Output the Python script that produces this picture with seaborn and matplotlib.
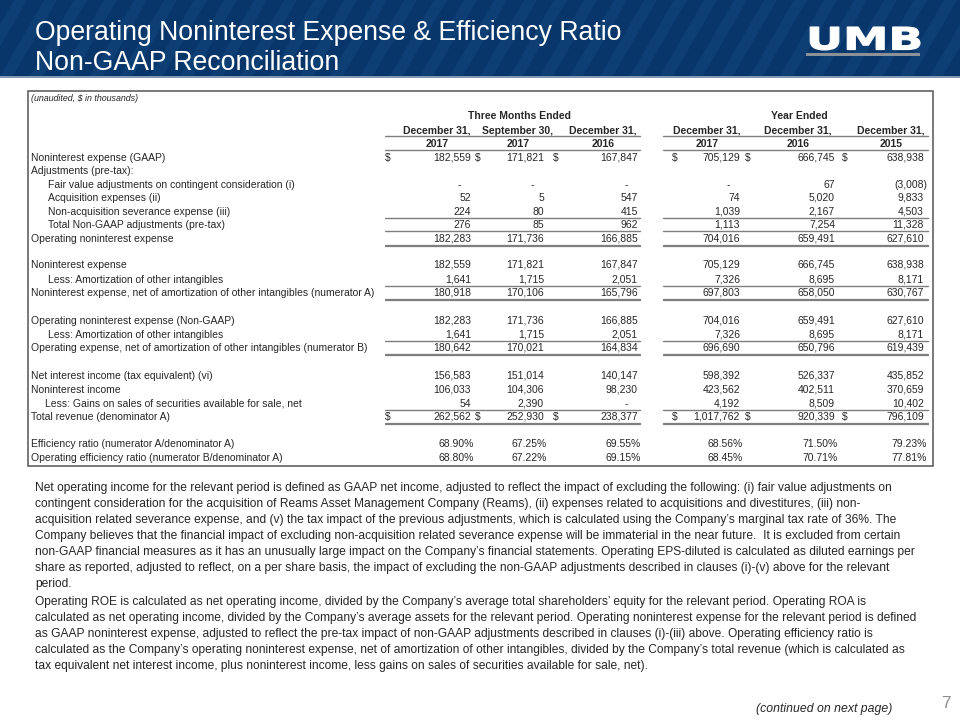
import numpy as np
import matplotlib.pyplot as plt
import seaborn as sns
from matplotlib.patches import Rectangle, Polygon, PathPatch
from matplotlib.textpath import TextPath
from matplotlib.font_manager import FontProperties
from matplotlib.path import Path

sns.set_theme(style="white")
plt.rcParams["font.family"] = ["Liberation Sans", "DejaVu Sans"]

# ---- data ----
title_lines = ["Operating Noninterest Expense & Efficiency Ratio", "Non-GAAP Reconciliation"]
group_labels = ["Three Months Ended", "Year Ended"]
col_dates = ["December 31,", "September 30,", "December 31,", "December 31,", "December 31,", "December 31,"]
col_years = ["2017", "2017", "2016", "2017", "2016", "2015"]

row_labels = [
    "Noninterest expense (GAAP)",
    "Adjustments (pre-tax):",
    "Fair value adjustments on contingent consideration (i)",
    "Acquisition expenses (ii)",
    "Non-acquisition severance expense (iii)",
    "Total Non-GAAP adjustments (pre-tax)",
    "Operating noninterest expense",
    "Noninterest expense",
    "Less: Amortization of other intangibles",
    "Noninterest expense, net of amortization of other intangibles (numerator A)",
    "Operating noninterest expense (Non-GAAP)",
    "Less: Amortization of other intangibles",
    "Operating expense, net of amortization of other intangibles (numerator B)",
    "Net interest income (tax equivalent) (vi)",
    "Noninterest income",
    "Less: Gains on sales of securities available for sale, net",
    "Total revenue (denominator A)",
    "Efficiency ratio (numerator A/denominator A)",
    "Operating efficiency ratio (numerator B/denominator A)",
]
row_indent = [0, 0, 1, 1, 1, 1, 0, 0, 1, 0, 0, 1, 0, 0, 0, 1, 0, 0, 0]
dollar_rows = [0, 16]
pct_rows = [17, 18]

q4_2017 = [182559, None, 0, 52, 224, 276, 182283, 182559, 1641, 180918, 182283, 1641, 180642,
           156583, 106033, 54, 262562, 68.90, 68.80]
q3_2017 = [171821, None, 0, 5, 80, 85, 171736, 171821, 1715, 170106, 171736, 1715, 170021,
           151014, 104306, 2390, 252930, 67.25, 67.22]
q4_2016 = [167847, None, 0, 547, 415, 962, 166885, 167847, 2051, 165796, 166885, 2051, 164834,
           140147, 98230, 0, 238377, 69.55, 69.15]
fy_2017 = [705129, None, 0, 74, 1039, 1113, 704016, 705129, 7326, 697803, 704016, 7326, 696690,
           598392, 423562, 4192, 1017762, 68.56, 68.45]
fy_2016 = [666745, None, 67, 5020, 2167, 7254, 659491, 666745, 8695, 658050, 659491, 8695, 650796,
           526337, 402511, 8509, 920339, 71.50, 70.71]
fy_2015 = [638938, None, -3008, 9833, 4503, 11328, 627610, 638938, 8171, 630767, 627610, 8171, 619439,
           435852, 370659, 10402, 796109, 79.23, 77.81]
columns = [q4_2017, q3_2017, q4_2016, fy_2017, fy_2016, fy_2015]

para1 = [
    "Net operating income for the relevant period is defined as GAAP net income, adjusted to reflect the impact of excluding the following: (i) fair value adjustments on",
    "contingent consideration for the acquisition of Reams Asset Management Company (Reams), (ii) expenses related to acquisitions and divestitures, (iii) non-",
    "acquisition related severance expense, and (v) the tax impact of the previous adjustments, which is calculated using the Company\u2019s marginal tax rate of 36%. The",
    "Company believes that the financial impact of excluding non-acquisition related severance expense will be immaterial in the near future.  It is excluded from certain",
    "non-GAAP financial measures as it has an unusually large impact on the Company\u2019s financial statements. Operating EPS-diluted is calculated as diluted earnings per",
    "share as reported, adjusted to reflect, on a per share basis, the impact of excluding the non-GAAP adjustments described in clauses (i)-(v) above for the relevant",
    "period.",
]
para2 = [
    "Operating ROE is calculated as net operating income, divided by the Company\u2019s average total shareholders\u2019 equity for the relevant period. Operating ROA is",
    "calculated as net operating income, divided by the Company\u2019s average assets for the relevant period. Operating noninterest expense for the relevant period is defined",
    "as GAAP noninterest expense, adjusted to reflect the pre-tax impact of non-GAAP adjustments described in clauses (i)-(iii) above. Operating efficiency ratio is",
    "calculated as the Company\u2019s operating noninterest expense, net of amortization of other intangibles, divided by the Company\u2019s total revenue (which is calculated as",
    "tax equivalent net interest income, plus noninterest income, less gains on sales of securities available for sale, net).",
]

# ---- layout (pixels, y measured at middle of capitals) ----
row_y = [157, 170, 184, 197, 211, 224, 238, 264, 279, 292, 320, 334, 347, 375, 389, 403, 416, 443, 457]
single_rules = [4, 5, 8, 11, 15]
double_rules = [6, 9, 12, 16]
val_right = [471, 544, 638, 740, 835, 924]
dollar_x = [385, 475, 553, 672, 745, 842]
col_center = [437, 518, 603, 707, 798, 891]
group_center = [520, 799]
group_span = [(385, 640), (663, 928)]
navy = "#08366a"
rule_c = "#7f7f7f"
FS = 7.5
PFS = 8.65
TB = 3.7  # half cap height of table text, pixels


def put(x, y, s, size, half_cap, **kw):
    # draw text so that the middle of its capitals sits at pixel row y
    ax.text(x, y + half_cap, s, fontsize=size, va="baseline", zorder=5, **kw)


fig = plt.figure(figsize=(9.6, 7.2), dpi=100)
ax = fig.add_axes([0, 0, 1, 1])
ax.set_xlim(0, 960)
ax.set_ylim(720, 0)
ax.axis("off")
sns.despine(ax=ax, left=True, bottom=True)

# header band with diagonal stripes
band = Rectangle((0, 0), 960, 76, facecolor=navy, edgecolor="none", zorder=1)
ax.add_patch(band)
for k in range(-5, 40):
    x0 = k * 30
    st = Polygon([(x0, 76), (x0 + 13, 76), (x0 + 13 + 44, 0), (x0 + 44, 0)],
                 closed=True, facecolor="#0d3f74", edgecolor="none", zorder=2)
    st.set_clip_path(band)
    ax.add_patch(st)
ax.plot([0, 960], [76.5, 76.5], color="#6a84a3", lw=1.2, zorder=3)
for i, t in enumerate(title_lines):
    put(35, 31 + i * 29, t, 19.2, 9.5, color="white", ha="left")

# logo
tp = TextPath((0, 0), "UMB", size=1, prop=FontProperties(family="DejaVu Sans", weight="bold"))
v = tp.vertices.copy()
xmn, ymn = v.min(axis=0)
xmx, ymx = v.max(axis=0)
v[:, 0] = 806 + (v[:, 0] - xmn) / (xmx - xmn) * 114
v[:, 1] = 50 - (v[:, 1] - ymn) / (ymx - ymn) * 23
ax.add_patch(PathPatch(Path(v, tp.codes), facecolor="white", edgecolor="white", lw=0.8, zorder=4))
ax.add_patch(Rectangle((806, 53), 114, 3, facecolor="#8c9097", edgecolor="none", zorder=4))

# table frame
ax.add_patch(Rectangle((28, 91), 905, 375, facecolor="white", edgecolor="#555555", lw=1.1, zorder=3))
put(31, 98, "(unaudited, $ in thousands)", 6.4, 3.2, style="italic", ha="left")

for g, c in zip(group_labels, group_center):
    put(c, 115, g, FS, TB, weight="bold", ha="center")
for d, yr, c in zip(col_dates, col_years, col_center):
    put(c, 130, d, FS, TB, weight="bold", ha="center")
    put(c, 143, yr, FS, TB, weight="bold", ha="center")
for a, b in group_span:
    for yy in (136, 149.5):
        ax.plot([a, b], [yy, yy], color=rule_c, lw=1.0, zorder=5)


def fmt(val, r):
    if r in pct_rows:
        return f"{val:.2f}%"
    if val < 0:
        return f"({-val:,})"
    return f"{val:,}"


for r, (lab, ind, y) in enumerate(zip(row_labels, row_indent, row_y)):
    lx = 31 + (17 if ind else 0)
    if lab.startswith("Less: Gains"):
        lx = 45
    put(lx, y, lab, FS, TB, ha="left")
    for j, col in enumerate(columns):
        val = col[r]
        if val is None:
            continue
        if val == 0:
            put(val_right[j] - 10, y, "-", FS, TB, ha="right")
        else:
            xr = val_right[j] + (3 if (val < 0 or r in pct_rows) else 0)
            put(xr, y, fmt(val, r), FS, TB, ha="right")
        if r in dollar_rows:
            put(dollar_x[j], y, "$", FS, TB, ha="left")

for r in single_rules + double_rules:
    yy = row_y[r] + 6.5
    for a, b in group_span:
        if r in double_rules:
            ax.plot([a, b], [yy, yy], color=rule_c, lw=0.9, zorder=5)
            ax.plot([a, b], [yy + 1.8, yy + 1.8], color=rule_c, lw=0.9, zorder=5)
        else:
            ax.plot([a, b], [yy, yy], color=rule_c, lw=1.0, zorder=5)

# explanatory paragraphs
for i, line in enumerate(para1):
    put(35, 487 + i * 15.9, line, PFS, 4.3, ha="left")
for i, line in enumerate(para2):
    put(35, 601 + i * 15.9, line, PFS, 4.3, ha="left")

put(941, 702, "7", 12.5, 6.2, color="#8c8c8c", ha="left")
put(892, 708, "(continued on next page)", 8.8, 4.4, style="italic", ha="right")

fig.savefig("out.png", dpi=100)
